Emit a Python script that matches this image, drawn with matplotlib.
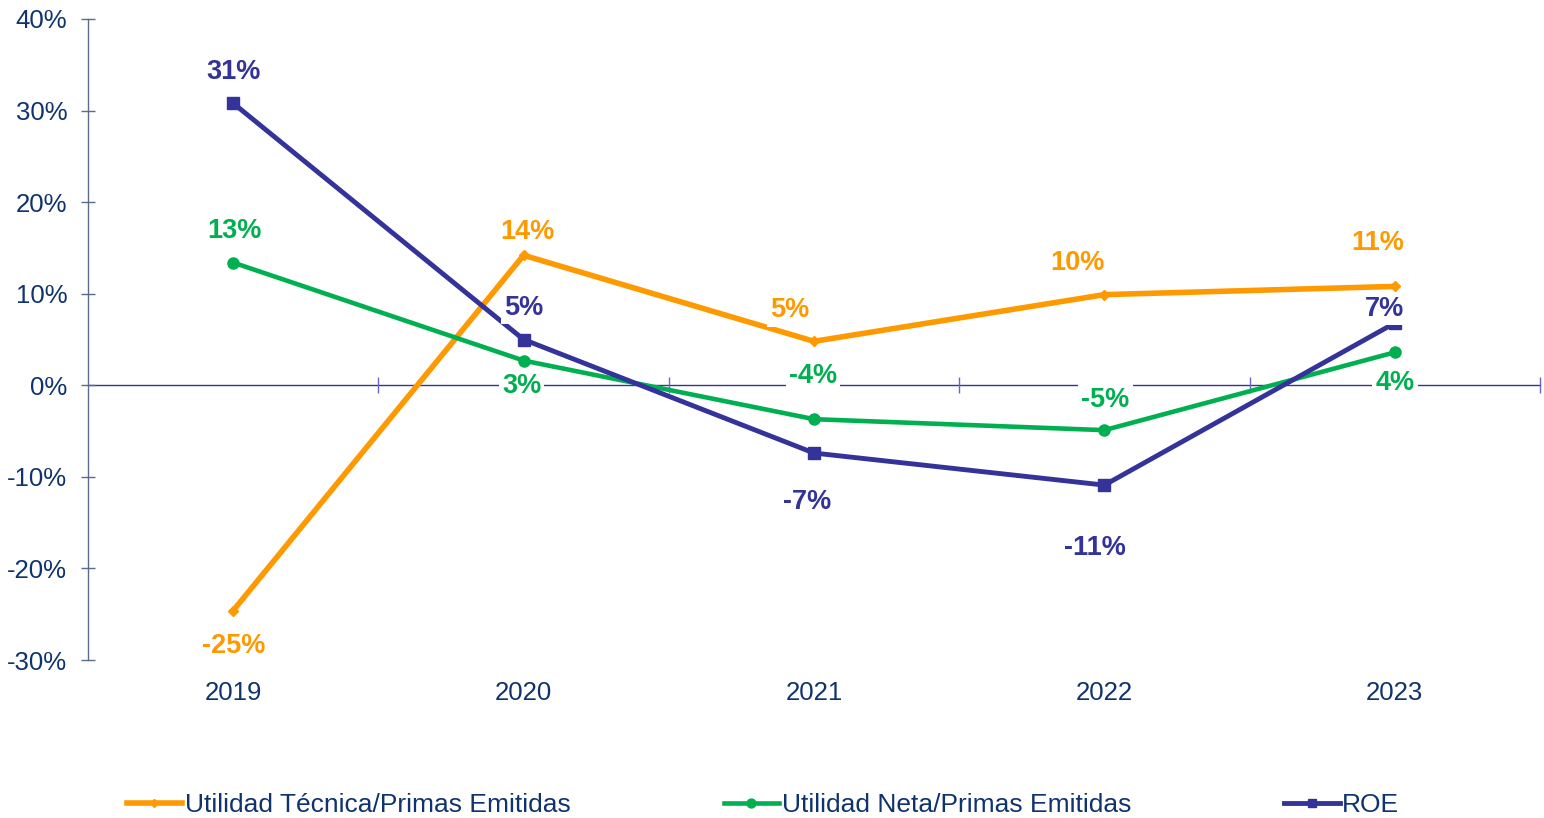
import matplotlib.pyplot as plt
from matplotlib.ticker import FuncFormatter, FixedLocator

plt.rcParams['font.family'] = ['Liberation Sans', 'DejaVu Sans']

years = ['2019', '2020', '2021', '2022', '2023']
tecnica = [-24.6, 14.2, 4.8, 9.9, 10.8]
neta = [13.4, 2.7, -3.7, -4.9, 3.6]
roe = [30.8, 5.0, -7.4, -10.9, 6.8]

ORANGE = '#FF9900'
GREEN = '#00B050'
NAVY = '#333399'
TEXT = '#0F336E'

# label offsets in pixels (dx, dy) for each point
off_tecnica = [(0, -35), (4, 23), (-24, 31), (-27, 32), (-17, 43)]
off_neta = [(1, 32), (-2, -25), (-1, 43), (1, 30), (0, -31)]
off_roe = [(0, 31), (0, 32), (-7, -49), (-9, -63), (-10, 14)]

fig = plt.figure(figsize=(15.44, 8.18), dpi=100)
ax = fig.add_axes([88 / 1544, 1 - 660 / 818, (1540 - 88) / 1544, (660 - 19) / 818])

x = list(range(len(years)))
series = [
    (tecnica, ORANGE, 'D', 5, 4.0, 'Utilidad Técnica/Primas Emitidas', off_tecnica),
    (neta, GREEN, 'o', 8, 3.3, 'Utilidad Neta/Primas Emitidas', off_neta),
    (roe, NAVY, 's', 8, 3.5, 'ROE', off_roe),
]
lines = []
for vals, col, mk, ms, lw, name, offs in series:
    ln, = ax.plot(x, vals, color=col, marker=mk, markersize=ms, linewidth=lw,
                  label=name, zorder=3, solid_joinstyle='miter')
    lines.append(ln)

for vals, col, mk, ms, lw, name, offs in series:
    for xi, v, (dx, dy) in zip(x, vals, offs):
        ax.annotate(f"{v:.0f}%", (xi, v), xytext=(dx, dy), textcoords='offset pixels',
                    ha='center', va='center', fontsize=19.5, fontweight='bold', color=col,
                    bbox=dict(boxstyle='square,pad=0.12', fc='white', ec='none'), zorder=5)

ax.set_xlim(-0.5, 4.5)
ax.set_ylim(-30, 40)
ax.set_yticks(range(-30, 41, 10))
ax.yaxis.set_major_formatter(FuncFormatter(lambda v, p: f"{v:.0f}%"))

ax.spines['top'].set_visible(False)
ax.spines['right'].set_visible(False)
ax.spines['left'].set_color('#5A6B8C')
ax.spines['left'].set_linewidth(1.0)
ax.spines['bottom'].set_position(('data', 0))
ax.spines['bottom'].set_color(NAVY)
ax.spines['bottom'].set_linewidth(1.0)
ax.spines['bottom'].set_zorder(1)

ax.tick_params(axis='y', direction='inout', length=10, width=1, color='#5A6B8C',
               labelsize=18.5, labelcolor=TEXT, pad=10)
ax.set_xticks(x)
ax.set_xticklabels(years)
ax.xaxis.set_minor_locator(FixedLocator([0.5, 1.5, 2.5, 3.5, 4.5]))
ax.tick_params(axis='x', which='major', length=0, labelsize=18.5, labelcolor=TEXT, pad=213)
ax.tick_params(axis='x', which='minor', direction='inout', length=12, width=1, color='#6666CC')

fig.legend(handles=lines, loc='center', bbox_to_anchor=(763 / 1544, 1 - 805 / 818),
           ncol=3, frameon=False, fontsize=19, labelcolor=TEXT, handlelength=2.1,
           handletextpad=0.1, columnspacing=5.8, borderaxespad=0, borderpad=0,
           markerscale=0.8)

fig.savefig('out.png', dpi=100)
